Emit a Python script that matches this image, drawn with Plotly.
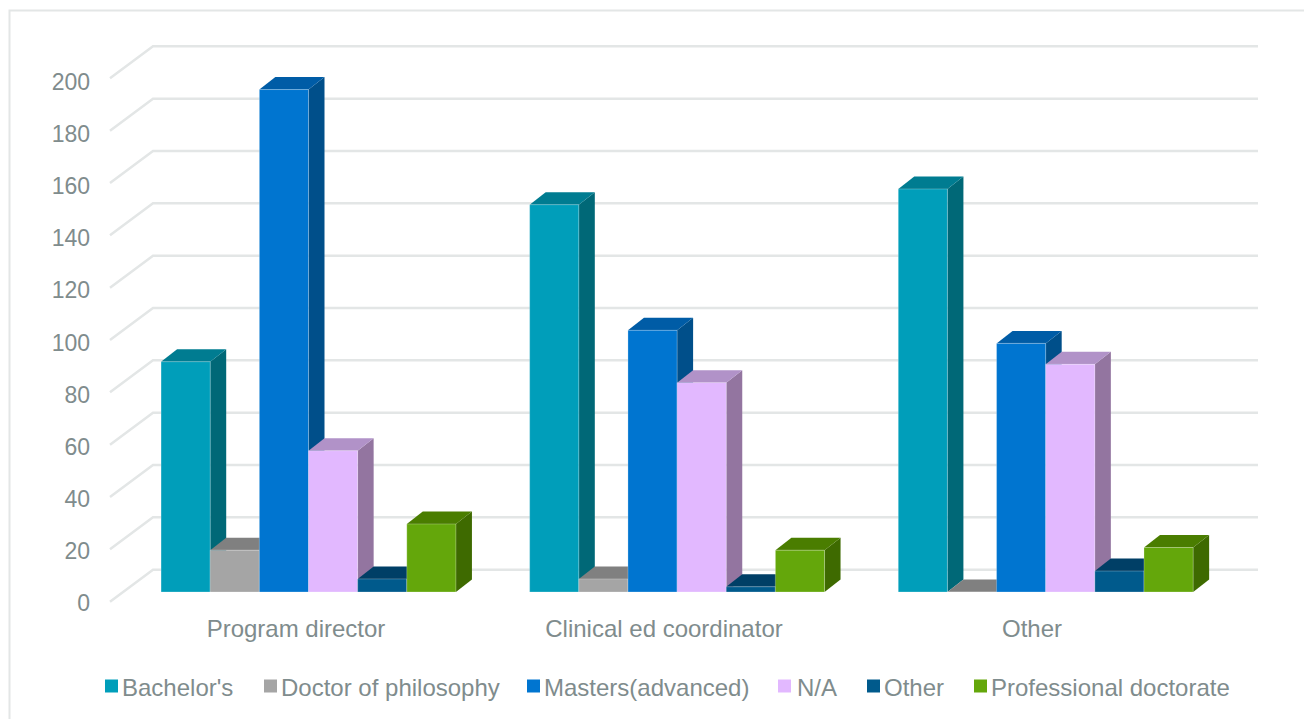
import plotly.graph_objects as go

categories = ["Program director", "Clinical ed coordinator", "Other"]
series_names = ["Bachelor's", "Doctor of philosophy", "Masters(advanced)", "N/A", "Other", "Professional doctorate"]
bachelors = [88, 148, 154]
doctor_phil = [16, 5, 0]
masters = [192, 100, 95]
not_applicable = [54, 80, 87]
other = [5, 2, 8]
prof_doctorate = [26, 16, 17]
y_ticks = list(range(0, 201, 20))

series_values = [bachelors, doctor_phil, masters, not_applicable, other, prof_doctorate]
front_colors = ["#009EBA", "#A5A5A5", "#0075D0", "#E2B8FF", "#005A8C", "#64A70B"]
side_colors = ["#006877", "#808080", "#004F8A", "#9375A0", "#003B5C", "#3E6A00"]
top_colors = ["#007C91", "#808080", "#005CA6", "#B192C8", "#003F66", "#4A7D00"]

PX_X = 368.6
PX_Y = 2.617
PX_Y_LABELS = 2.6025
X_ORIGIN = 308.5
PLOT_L, PLOT_R, PLOT_T, PLOT_B = 96, 1270, 30, 612
W, H = 1304, 719
PW, PH = PLOT_R - PLOT_L, PLOT_B - PLOT_T
LABEL_Y0, FRONT_Y0, BAR_Y0 = 602.7, 601.7, 592.0
GRID_SHIFT = (BAR_Y0 - FRONT_Y0) / PX_Y
BAR_W = 0.8 / 6
DX = 16.0 / PX_X
DY = 12.5 / PX_Y
WALL_DX = 43.0 / PX_X
WALL_DY = 32.0 / PX_Y
GRID_X0 = (110 - X_ORIGIN) / PX_X
GRID_X1 = (1258 - X_ORIGIN) / PX_X
TICK_SHIFT = -12.5 / PX_X
TICK_PERIOD = 368.0 / PX_X
TEXT = "#7F8C8D"
GRID = "#E3E6E6"
FONT = "Liberation Sans"

fig = go.Figure()

# carrier of the value axis labels
fig.add_trace(go.Scatter(
    x=[0] * len(y_ticks), y=y_ticks, mode="markers", marker=dict(opacity=0),
    xaxis="x", yaxis="y", showlegend=False, hoverinfo="skip"))

# wall and side gridlines
for v in y_ticks:
    fig.add_trace(go.Scatter(
        x=[GRID_X0, GRID_X0 + WALL_DX, GRID_X1],
        y=[v + GRID_SHIFT, v + GRID_SHIFT + WALL_DY, v + GRID_SHIFT + WALL_DY],
        mode="lines", line=dict(color=GRID, width=2.5), xaxis="x", yaxis="y2",
        showlegend=False, hoverinfo="skip"))

# side and top faces
for i in range(len(categories)):
    for j, vals in enumerate(series_values):
        v = vals[i]
        x0 = i - 0.4 + j * BAR_W
        x1 = x0 + BAR_W
        fig.add_trace(go.Scatter(
            x=[x1, x1, x1 + DX, x1 + DX, x1], y=[0, v, v + DY, DY, 0],
            mode="lines", fill="toself", fillcolor=side_colors[j], line=dict(width=0),
            xaxis="x", yaxis="y2", showlegend=False, hoverinfo="skip"))
        fig.add_trace(go.Scatter(
            x=[x0, x1, x1 + DX, x0 + DX, x0], y=[v, v, v + DY, v + DY, v],
            mode="lines", fill="toself", fillcolor=top_colors[j], line=dict(width=0),
            xaxis="x", yaxis="y2", showlegend=False, hoverinfo="skip"))

# front faces
for j, (name, vals) in enumerate(zip(series_names, series_values)):
    fig.add_trace(go.Bar(
        x=list(range(len(categories))), y=vals, name=name,
        marker=dict(color=front_colors[j], line=dict(width=1, color="rgba(255,255,255,0.25)")),
        xaxis="x", yaxis="y3", showlegend=False))


def paper_x(px):
    return (px - PLOT_L) / PW


def paper_y(px):
    return (PLOT_B - px) / PH


# legend row
legend_swatch_x = [105, 264, 527, 778, 867, 974]
legend_text_x = [121, 280, 543, 796, 883, 990]
legend_y = 687
legend_swatch = 13
shapes = [dict(type="rect", xref="paper", yref="paper",
               x0=paper_x(9.5), x1=paper_x(1330), y0=-0.3, y1=paper_y(10.5),
               line=dict(color=GRID, width=2), layer="below")]
annotations = []
for name, color, sx, tx in zip(series_names, front_colors, legend_swatch_x, legend_text_x):
    shapes.append(dict(type="rect", xref="paper", yref="paper",
                       x0=paper_x(sx), x1=paper_x(sx + legend_swatch),
                       y0=paper_y(legend_y + legend_swatch / 2 - 1), y1=paper_y(legend_y - legend_swatch / 2 - 1),
                       fillcolor=color, line=dict(width=0)))
    annotations.append(dict(text=name, xref="paper", yref="paper", x=paper_x(tx), y=paper_y(legend_y),
                            xanchor="left", yanchor="middle", showarrow=False, borderpad=0,
                            font=dict(family=FONT, size=24, color=TEXT)))

y_labels = [(LABEL_Y0 - PLOT_B) / PX_Y_LABELS, (LABEL_Y0 - PLOT_T) / PX_Y_LABELS]
y_bar = [(BAR_Y0 - PLOT_B) / PX_Y, (BAR_Y0 - PLOT_T) / PX_Y]

fig.update_layout(
    width=W, height=H, autosize=False,
    margin=dict(l=PLOT_L, r=W - PLOT_R, t=PLOT_T, b=H - PLOT_B, pad=0, autoexpand=False),
    paper_bgcolor="white", plot_bgcolor="rgba(0,0,0,0)",
    barmode="group", bargap=0.2, bargroupgap=0,
    showlegend=False,
    xaxis=dict(range=[(PLOT_L - X_ORIGIN) / PX_X, (PLOT_R - X_ORIGIN) / PX_X],
               tickmode="array", tickvals=[i * TICK_PERIOD + TICK_SHIFT for i in range(len(categories))],
               ticktext=categories, showgrid=False, zeroline=False, showline=False, ticks="",
               tickfont=dict(family=FONT, size=24, color=TEXT), ticklabelstandoff=0),
    yaxis=dict(range=y_labels, tickmode="array", tickvals=y_ticks, ticktext=[str(t) for t in y_ticks],
               showgrid=False, zeroline=False, showline=False, ticks="",
               tickfont=dict(family=FONT, size=23, color=TEXT), ticklabelstandoff=5),
    yaxis2=dict(range=y_bar, overlaying="y", visible=False),
    yaxis3=dict(range=y_bar, overlaying="y", visible=False),
    shapes=shapes,
    annotations=annotations,
)

fig.write_html("out.html", config={"displayModeBar": False},
               post_script="document.body.style.margin='0';")
